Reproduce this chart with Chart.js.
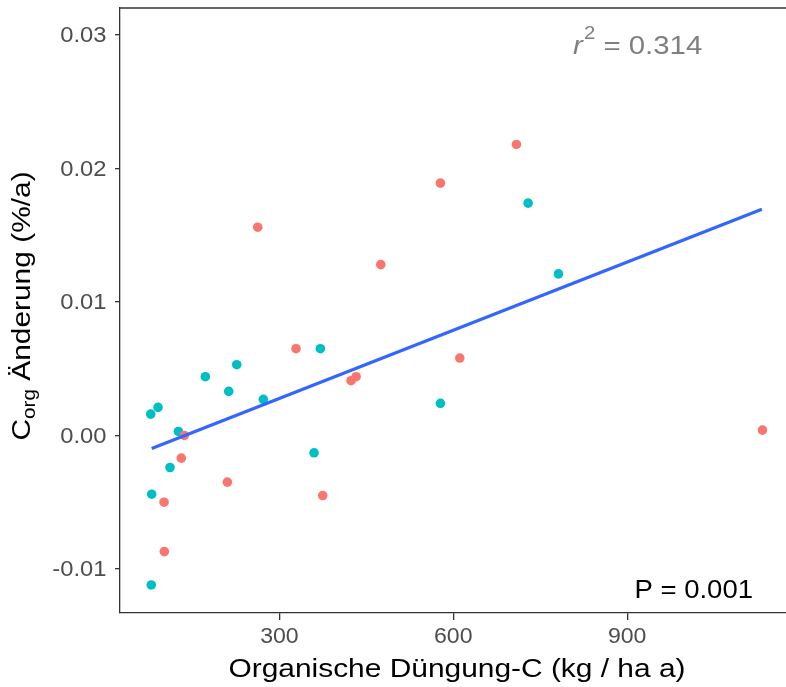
<!DOCTYPE html>
<html>
<head>
<meta charset="utf-8">
<script src="https://cdn.jsdelivr.net/npm/chart.js@4.4.1/dist/chart.umd.min.js"></script>
<style>
  html, body { margin: 0; padding: 0; background: #fff; overflow: hidden; }
</style>
</head>
<body>
<canvas id="chart" width="786" height="687"></canvas>
<script>
"use strict";

// Organische Düngung-C (kg / ha a) gegen Corg-Änderung (%/a), zwei Gruppen
const redX  = [101, 101.5, 130.8, 136, 210.2, 262.6, 328.7, 374.8, 423.6, 432.3, 474.9, 577.8, 611.2, 708.9, 1133.4];
const redY  = [-0.0050, -0.0087, -0.0017, 0.0000, -0.0035, 0.0156, 0.0065, -0.0045, 0.0041, 0.0044, 0.0128, 0.0189, 0.0058, 0.0218, 0.0004];
const tealX = [78, 79, 79.7, 90.6, 111.3, 125.7, 172.2, 212.6, 226.4, 272.3, 359.8, 370.7, 577.8, 729.1, 781.4];
const tealY = [0.0016, -0.0112, -0.0044, 0.0021, -0.0024, 0.0003, 0.0044, 0.0033, 0.0053, 0.0027, -0.0013, 0.0065, 0.0024, 0.0174, 0.0121];

// Regressionsgerade (Endpunkte)
const fitX = [79.7, 1132.4];
const fitY = [-0.00098, 0.01694];

const xTicks = [300, 600, 900];
const xTickLabels = ['300', '600', '900'];
const yTicks = [-0.01, 0, 0.01, 0.02, 0.03];
const yTickLabels = ['-0.01', '0.00', '0.01', '0.02', '0.03'];

const rSquared = '0.314';
const pValue = '0.001';

const FONT = "'Liberation Sans', Arial, sans-serif";

const toPoints = (xs, ys) => xs.map((x, i) => ({ x: x, y: ys[i] }));

// Text mit horizontaler Streckung sx
function drawText(ctx, text, x, y, font, color, align, baseline, sx) {
  ctx.save();
  ctx.font = font;
  ctx.fillStyle = color;
  ctx.textAlign = align;
  ctx.textBaseline = baseline;
  ctx.translate(x, y);
  ctx.scale(sx, 1);
  ctx.fillText(text, 0, 0);
  ctx.restore();
}

const labelsPlugin = {
  id: 'labels',
  afterDraw(chart) {
    const ctx = chart.ctx;
    const area = chart.chartArea;
    const xs = chart.scales.x;
    const ys = chart.scales.y;

    // obere Rahmenlinie
    ctx.save();
    ctx.strokeStyle = '#333333';
    ctx.lineWidth = 1.3;
    ctx.beginPath();
    ctx.moveTo(area.left, area.top);
    ctx.lineTo(area.right, area.top);
    ctx.stroke();
    ctx.restore();

    const tickFont = '22px ' + FONT;
    yTicks.forEach((v, i) => {
      drawText(ctx, yTickLabels[i], area.left - 13.5, ys.getPixelForValue(v) + 1, tickFont, '#4D4D4D', 'right', 'middle', 1.08);
    });
    xTicks.forEach((v, i) => {
      drawText(ctx, xTickLabels[i], xs.getPixelForValue(v), area.bottom + 24, tickFont, '#4D4D4D', 'center', 'middle', 1.05);
    });

    // Achsentitel x
    drawText(ctx, 'Organische Düngung-C (kg / ha a)', 457, 677, '26px ' + FONT, '#000000', 'center', 'alphabetic', 1.15);

    // Achsentitel y mit Index "org"
    ctx.save();
    ctx.translate(30, 306);
    ctx.rotate(-Math.PI / 2);
    ctx.scale(1.15, 1);
    ctx.fillStyle = '#000000';
    ctx.textBaseline = 'alphabetic';
    ctx.textAlign = 'left';
    const big = '26px ' + FONT;
    const small = '18px ' + FONT;
    ctx.font = big;
    const wC = ctx.measureText('C').width;
    const rest = ' Änderung (%/a)';
    const wRest = ctx.measureText(rest).width;
    ctx.font = small;
    const wOrg = ctx.measureText('org').width;
    const x0 = -(wC + wOrg + wRest) / 2;
    ctx.font = big;
    ctx.fillText('C', x0, 0);
    ctx.font = small;
    ctx.fillText('org', x0 + wC, 5);
    ctx.font = big;
    ctx.fillText(rest, x0 + wC + wOrg, 0);
    ctx.restore();

    // r² oben rechts
    ctx.save();
    ctx.translate(573, 53.5);
    ctx.scale(1.13, 1);
    ctx.fillStyle = '#7F7F7F';
    ctx.textBaseline = 'alphabetic';
    ctx.textAlign = 'left';
    ctx.font = 'italic 26px ' + FONT;
    const wr = ctx.measureText('r').width;
    ctx.fillText('r', 0, 0);
    ctx.font = '18px ' + FONT;
    const w2 = ctx.measureText('2').width;
    ctx.fillText('2', wr + 1, -15);
    ctx.font = '26px ' + FONT;
    ctx.fillText(' = ' + rSquared, wr + w2 + 1, 0);
    ctx.restore();

    // P-Wert unten rechts
    drawText(ctx, 'P = ' + pValue, 753, 598, '25px ' + FONT, '#000000', 'right', 'alphabetic', 1.1);
  }
};

const axisGrid = (len) => ({
  drawOnChartArea: false,
  drawTicks: true,
  tickLength: len,
  color: '#333333',
  lineWidth: 1.3
});

new Chart(document.getElementById('chart'), {
  type: 'scatter',
  data: {
    datasets: [
      {
        type: 'line',
        data: toPoints(fitX, fitY),
        borderColor: '#3366FF',
        borderWidth: 3.3,
        pointRadius: 0,
        fill: false
      },
      {
        data: toPoints(redX, redY),
        backgroundColor: '#F8766D',
        borderWidth: 0,
        pointRadius: 4.8
      },
      {
        data: toPoints(tealX, tealY),
        backgroundColor: '#00BFC4',
        borderWidth: 0,
        pointRadius: 4.8
      }
    ]
  },
  options: {
    responsive: false,
    animation: false,
    devicePixelRatio: 1,
    layout: { autoPadding: false, padding: { top: 8, left: 0, right: 0, bottom: 0 } },
    plugins: {
      legend: { display: false },
      tooltip: { enabled: false }
    },
    scales: {
      x: {
        type: 'linear',
        min: 25,
        max: 1174,
        afterBuildTicks: (s) => { s.ticks = xTicks.map(v => ({ value: v })); },
        afterFit: (s) => { s.height = 74; },
        ticks: { display: false },
        grid: axisGrid(7),
        border: { display: true, color: '#333333', width: 1.3 }
      },
      y: {
        type: 'linear',
        min: -0.0133,
        max: 0.03202,
        afterBuildTicks: (s) => { s.ticks = yTicks.map(v => ({ value: v })); },
        afterFit: (s) => { s.width = 120; },
        ticks: { display: false },
        grid: axisGrid(5),
        border: { display: true, color: '#333333', width: 1.3 }
      }
    }
  },
  plugins: [labelsPlugin]
});
</script>
</body>
</html>
